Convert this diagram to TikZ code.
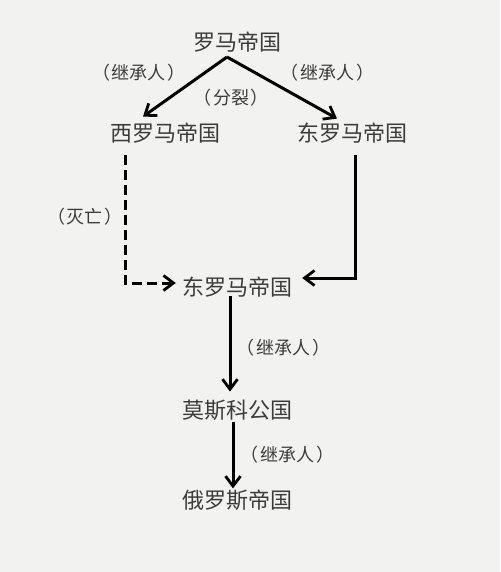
\documentclass[tikz,border=0pt]{standalone}
\usepackage{fontspec}
\setmainfont{Noto Sans CJK SC}
\usetikzlibrary{arrows.meta}
\definecolor{paper}{HTML}{F2F2F1}
\definecolor{ink}{HTML}{3C3C3C}
\tikzset{
  state/.style={text=ink, font=\fontsize{22}{22}\selectfont, inner sep=2pt},
  note/.style={text=ink, font=\fontsize{18}{18}\selectfont, inner sep=1pt},
  link/.style={line width=3pt, -{Straight Barb[length=10pt,width=15pt,line width=2.8pt]}},
  fall/.style={link, dash pattern=on 10pt off 5pt}
}
\newcommand{\paren}[1]{（\hspace{2pt}#1\hspace{2pt}）}
\begin{document}
\begin{tikzpicture}[x=1pt,y=-1pt]
\fill[paper] (0,0) rectangle (500,572);
\useasboundingbox (0,0) rectangle (500,572);
\node[state] (rome) at (237,42) {罗马帝国};
\node[state] (west) at (165,133) {西罗马帝国};
\node[state] (east) at (352,133) {东罗马帝国};
\node[state] (byz) at (237,287) {东罗马帝国};
\node[state] (moscow) at (237,410) {莫斯科公国};
\node[state] (russia) at (237,500) {俄罗斯帝国};
\coordinate (split) at (227,57);
\draw[link] (split) -- ([xshift=-22pt,yshift=4pt]west.north);
\draw[link] (split) -- ([xshift=-15pt,yshift=2pt]east.north);
\draw[fall] ([xshift=-40pt,yshift=-10pt]west.south) |- ([xshift=-4pt,yshift=4pt]byz.west);
\draw[link] ([xshift=3pt,yshift=-10pt]east.south) |- ([xshift=8pt,yshift=9pt]byz.east);
\draw[link] ([xshift=-7pt,yshift=3pt]byz.south) -- ([xshift=-7pt,yshift=6pt]moscow.north);
\draw[link] ([xshift=-4pt,yshift=1pt]moscow.south) -- ([xshift=-4pt,yshift=-1pt]russia.north);
\node[note] (inheritl) at (139,73) {\paren{继承人}};
\node[note] (inheritr) at (327,73) {\paren{继承人}};
\node[note] (divide) at (231,98) {\paren{分裂}};
\node[note] (perish) at (85,217) {\paren{灭亡}};
\node[note] (inherit1) at (283,348) {\paren{继承人}};
\node[note] (inherit2) at (287,455) {\paren{继承人}};
\end{tikzpicture}
\end{document}
